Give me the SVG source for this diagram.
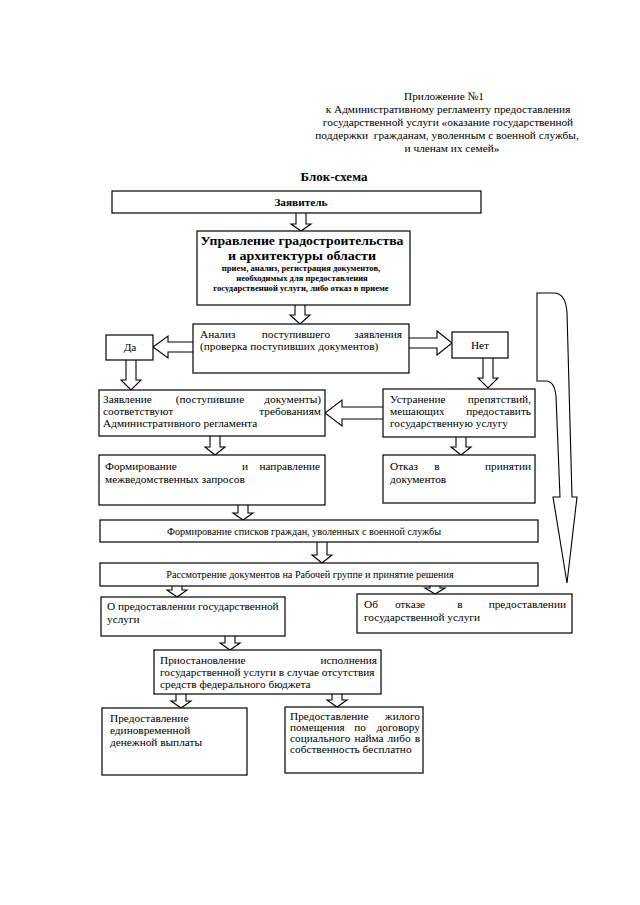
<svg xmlns="http://www.w3.org/2000/svg" width="640" height="905" viewBox="0 0 640 905">
<style>
.bg{fill:#fff}
.box{fill:#fff;stroke:#000;stroke-width:1.2}
.arr{fill:#fff;stroke:#000;stroke-width:1.1;stroke-linejoin:miter}
text{font-family:"Liberation Serif","Times New Roman",serif;font-size:11.3px;fill:#000}
.hd{font-size:11.3px}
.b{font-weight:bold}
.ttl{font-size:13px;font-weight:bold}
.big{font-size:13.5px;font-weight:bold}
.sm{font-size:8.6px;font-weight:bold}
.one{font-size:10.2px}
.c{text-anchor:middle}
.e{text-anchor:end}
</style>
<rect class="bg" x="0" y="0" width="640" height="905"/>

<g id="header">
<text class="hd c" x="444" y="100">Приложение №1</text>
<text class="hd c" x="448" y="113">к Административному регламенту предоставления</text>
<text class="hd c" x="448" y="126">государственной услуги «оказание государственной</text>
<text class="hd c" x="447" y="139" xml:space="preserve">поддержки  гражданам, уволенным с военной службы,</text>
<text class="hd c" x="452" y="152">и членам их семей»</text>
<text class="ttl c" x="334" y="181">Блок-схема</text>
</g>

<g id="connectors">
<path class="arr" d="M296 213 V224 H291 L301 231 L311 224 H306 V213"/>
<path class="arr" d="M295 305 V315 H290 L300 324 L310 315 H305 V305"/>
<path class="arr" d="M193 342 H168 V336 L153 347 L168 358 V352 H193"/>
<path class="arr" d="M409 338 H437 V331 L452 343 L437 355 V348 H409"/>
<path class="arr" d="M126 360 V380 H121 L131 390 L141 380 H136 V360"/>
<path class="arr" d="M483 358 V378 H478 L488 388 L498 378 H493 V358"/>
<path class="arr" d="M383 407 H342 V400 L325 413 L342 426 V419 H383"/>
<path class="arr" d="M210 436 V447 H205 L215 455 L225 447 H220 V436"/>
<path class="arr" d="M456 437 V447 H451 L461 455 L471 447 H466 V437"/>
<path class="arr" d="M238 505 V513 H233 L243 520 L253 513 H248 V505"/>
<path class="arr" d="M317 542 V555 H312 L322 563 L332 555 H327 V542"/>
<path class="arr" d="M172 586 V590 H167 L177 597 L187 590 H182 V586"/>
<path class="arr" d="M430 586 V588 H425 L435 594 L445 588 H440 V586"/>
<path class="arr" d="M225 636 V643 H220 L230 650 L240 643 H235 V636"/>
<path class="arr" d="M176 694 V701 H171 L181 708 L191 701 H186 V694"/>
<path class="arr" d="M332 694 V700 H327 L337 707 L347 700 H342 V694"/>
<path class="arr" d="M537 293 L554 293 C562 293 566 300 567 312 L572 497 L577 497 L567 583 L553 497 L560 497 L556 396 C555 387 552 381 546 381 L537 381 Z"/>
</g>

<g id="n-zayavitel">
<rect class="box" x="112" y="191" width="369" height="22"/>
<text class="b c" x="301" y="206" font-size="12px">Заявитель</text>
</g>

<g id="n-upravlenie">
<rect class="box" x="197" y="231" width="213" height="74"/>
<text class="big c" x="302" y="245" textLength="203" lengthAdjust="spacingAndGlyphs">Управление градостроительства</text>
<text class="big c" x="302" y="260" textLength="148" lengthAdjust="spacingAndGlyphs">и архитектуры области</text>
<text class="sm c" x="301" y="271">прием, анализ, регистрация документов,</text>
<text class="sm c" x="302" y="281">необходимых для предоставления</text>
<text class="sm c" x="301" y="291">государственной услуги, либо отказ в приеме</text>
</g>

<g id="n-analiz">
<rect class="box" x="193" y="324" width="216" height="49"/>
<text x="200" y="338">Анализ</text>
<text class="c" x="296" y="338">поступившего</text>
<text class="e" x="402" y="338">заявления</text>
<text x="200" y="350">(проверка поступивших документов)</text>
</g>

<g id="n-da">
<rect class="box" x="106" y="335" width="47" height="25"/>
<text class="c" x="130" y="351">Да</text>
</g>

<g id="n-net">
<rect class="box" x="452" y="332" width="56" height="26"/>
<text class="c" x="480" y="349">Нет</text>
</g>

<g id="n-sootvetstvuyut">
<rect class="box" x="99" y="390" width="226" height="46"/>
<text x="103" y="403">Заявление</text>
<text class="c" x="210" y="403">(поступившие</text>
<text class="e" x="321" y="403">документы)</text>
<text x="103" y="415">соответствуют</text>
<text class="e" x="321" y="415">требованиям</text>
<text x="103" y="427">Административного регламента</text>
</g>

<g id="n-ustranenie">
<rect class="box" x="383" y="389" width="152" height="48"/>
<text x="390" y="403">Устранение</text>
<text class="e" x="531" y="403">препятствий,</text>
<text x="390" y="415">мешающих</text>
<text class="e" x="531" y="415">предоставить</text>
<text x="390" y="427">государственную услугу</text>
</g>

<g id="n-formirovanie-zaprosov">
<rect class="box" x="99" y="455" width="226" height="50"/>
<text x="105" y="470">Формирование</text>
<text class="c" x="245" y="470">и</text>
<text class="e" x="320" y="470">направление</text>
<text x="105" y="483">межведомственных запросов</text>
</g>

<g id="n-otkaz-prinyatii">
<rect class="box" x="383" y="455" width="152" height="48"/>
<text x="390" y="470">Отказ</text>
<text class="c" x="437" y="470">в</text>
<text class="e" x="531" y="470">принятии</text>
<text x="390" y="483">документов</text>
</g>

<g id="n-spiski">
<rect class="box" x="100" y="520" width="438" height="22"/>
<text class="one c" x="304" y="535">Формирование списков граждан, уволенных с военной службы</text>
</g>

<g id="n-rassmotrenie">
<rect class="box" x="100" y="563" width="438" height="23"/>
<text class="one c" x="310" y="578">Рассмотрение документов на Рабочей группе и принятие решения</text>
</g>

<g id="n-o-predostavlenii">
<rect class="box" x="101" y="597" width="184" height="39"/>
<text x="107" y="610">О предоставлении государственной</text>
<text x="107" y="623">услуги</text>
</g>

<g id="n-ob-otkaze">
<rect class="box" x="357" y="594" width="215" height="39"/>
<text x="364" y="608">Об</text>
<text class="c" x="410" y="608">отказе</text>
<text class="c" x="460" y="608">в</text>
<text class="e" x="566" y="608">предоставлении</text>
<text x="364" y="621">государственной услуги</text>
</g>

<g id="n-priostanovlenie">
<rect class="box" x="154" y="650" width="227" height="44"/>
<text x="160" y="664">Приостановление</text>
<text class="e" x="377" y="664">исполнения</text>
<text x="160" y="676">государственной услуги в случае отсутствия</text>
<text x="160" y="688">средств федерального бюджета</text>
</g>

<g id="n-vyplata">
<rect class="box" x="102" y="708" width="145" height="67"/>
<text x="110" y="722">Предоставление</text>
<text x="110" y="734">единовременной</text>
<text x="110" y="746">денежной выплаты</text>
</g>

<g id="n-zhiloe">
<rect class="box" x="285" y="707" width="138" height="66"/>
<text x="290" y="720">Предоставление</text>
<text class="e" x="420" y="720">жилого</text>
<text x="290" y="731">помещения</text>
<text class="c" x="360" y="731">по</text>
<text class="e" x="420" y="731">договору</text>
<text x="290" y="742">социального</text>
<text class="c" x="369" y="742">найма</text>
<text class="c" x="399" y="742">либо</text>
<text class="e" x="420" y="742">в</text>
<text x="290" y="753">собственность бесплатно</text>
</g>
</svg>
